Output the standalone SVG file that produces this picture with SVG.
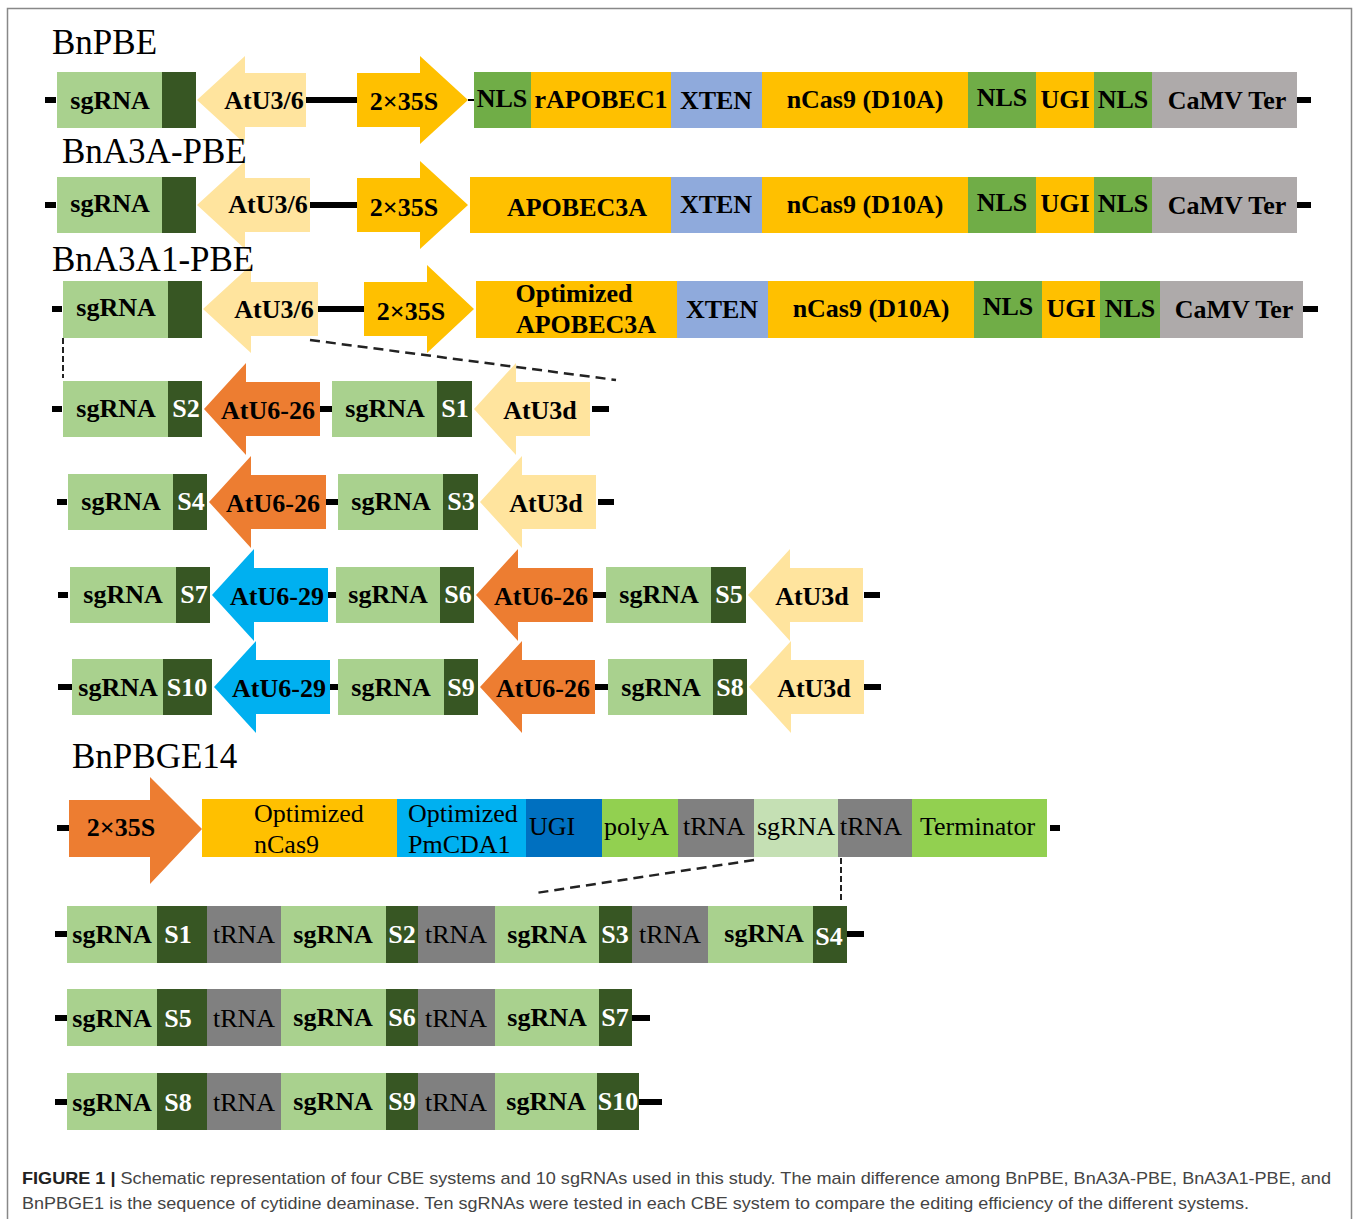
<svg xmlns="http://www.w3.org/2000/svg" width="1358" height="1219" viewBox="0 0 1358 1219">
<style>
.sg{fill:#A9D18E}.dk{fill:#375623}.pale{fill:#FFE49E}.gold{fill:#FFC000}.or{fill:#ED7D31}.bl{fill:#00B0F0}
.nls{fill:#70AD47}.xt{fill:#8FAADC}.cv{fill:#AEAAAA}.tr{fill:#808080}.pa{fill:#92D050}.ub{fill:#0070C0}.sp{fill:#C5E0B4}
.k{fill:#000}
text{font-family:"Liberation Serif","Times New Roman",serif;fill:#000}
.b{font-weight:bold;font-size:26px;text-anchor:middle}
.w{fill:#fff}
.n{font-size:26px}
.ttl{font-size:35px}
.cap{font-family:"Liberation Sans",Arial,sans-serif;font-size:17px;fill:#444}
.capb{font-weight:bold;fill:#222}
.dash{stroke:#222;fill:none}
</style>
<path d="M7.5,1219 V8.5 H1351.5 V1219" fill="none" stroke="#888" stroke-width="1.5"/>

<!-- Connectors: backbone lines, ticks and dashed zoom lines -->
<g id="connectors">
<rect class="k" x="45" y="97" width="11" height="6"/>
<rect class="k" x="305" y="97" width="53" height="6"/>
<rect class="k" x="468" y="99" width="6" height="2"/>
<rect class="k" x="1297" y="97" width="14" height="6"/>
<rect class="k" x="45" y="202" width="11" height="6"/>
<rect class="k" x="309" y="202" width="49" height="6"/>
<rect class="k" x="1297" y="202" width="14" height="6"/>
<rect class="k" x="52" y="306" width="10" height="6"/>
<rect class="k" x="317" y="306" width="48" height="6"/>
<rect class="k" x="1303" y="306" width="15" height="6"/>
<rect class="k" x="52" y="406" width="10" height="6"/>
<rect class="k" x="319" y="406" width="14" height="6"/>
<rect class="k" x="592" y="406" width="17" height="6"/>
<rect class="k" x="57" y="499" width="10" height="6"/>
<rect class="k" x="325" y="499" width="14" height="6"/>
<rect class="k" x="598" y="499" width="16" height="6"/>
<rect class="k" x="58" y="592" width="10" height="6"/>
<rect class="k" x="327" y="592" width="10" height="6"/>
<rect class="k" x="592" y="592" width="15" height="6"/>
<rect class="k" x="864" y="592" width="16" height="6"/>
<rect class="k" x="58" y="684" width="14" height="6"/>
<rect class="k" x="329" y="684" width="10" height="6"/>
<rect class="k" x="594" y="684" width="15" height="6"/>
<rect class="k" x="864" y="684" width="17" height="6"/>
<rect class="k" x="57" y="825" width="12" height="6"/>
<rect class="k" x="1050" y="825" width="10" height="6"/>
<rect class="k" x="55" y="931" width="12" height="6"/>
<rect class="k" x="846" y="931" width="18" height="6"/>
<rect class="k" x="55" y="1015" width="12" height="6"/>
<rect class="k" x="631" y="1015" width="19" height="6"/>
<rect class="k" x="55" y="1099" width="12" height="6"/>
<rect class="k" x="638" y="1099" width="24" height="6"/>
<line class="dash" x1="63" y1="338" x2="63" y2="378" stroke-width="2" stroke-dasharray="6,3"/>
<line class="dash" x1="310" y1="340" x2="616" y2="380" stroke-width="2.5" stroke-dasharray="10,6"/>
<line class="dash" x1="754" y1="860" x2="536" y2="893" stroke-width="2.5" stroke-dasharray="10,6"/>
<line class="dash" x1="841" y1="858" x2="841" y2="903" stroke-width="2" stroke-dasharray="6,3"/>
</g>

<!-- Row 1: BnPBE -->
<g id="bnpbe-sgRNA"><rect class="sg" x="57" y="72" width="105" height="56"/><rect class="dk" x="162" y="72" width="34" height="56"/><text class="b" x="110" y="109">sgRNA</text></g>
<g id="bnpbe-AtU3-6"><path class="pale" d="M197,100 L245,56 L245,73 L306,73 L306,127 L245,127 L245,144 Z"/><text class="b" x="264" y="109">AtU3/6</text></g>
<g id="bnpbe-2x35S"><path class="gold" d="M357,73 L420,73 L420,56 L468,100 L420,144 L420,127 L357,127 Z"/><text class="b" x="404" y="110">2×35S</text></g>
<g id="bnpbe-NLS1"><rect class="nls" x="474" y="72" width="57" height="56"/><text class="b" x="502" y="107">NLS</text></g>
<g id="bnpbe-rAPOBEC1"><rect class="gold" x="531" y="72" width="140" height="56"/><text class="b" x="601" y="108">rAPOBEC1</text></g>
<g id="bnpbe-XTEN"><rect class="xt" x="671" y="72" width="91" height="56"/><text class="b" x="716" y="109">XTEN</text></g>
<g id="bnpbe-nCas9"><rect class="gold" x="762" y="72" width="206" height="56"/><text class="b" x="865" y="108">nCas9 (D10A)</text></g>
<g id="bnpbe-NLS2"><rect class="nls" x="968" y="72" width="68" height="56"/><text class="b" x="1002" y="106">NLS</text></g>
<g id="bnpbe-UGI"><rect class="gold" x="1036" y="72" width="58" height="56"/><text class="b" x="1065" y="108">UGI</text></g>
<g id="bnpbe-NLS3"><rect class="nls" x="1094" y="72" width="58" height="56"/><text class="b" x="1123" y="108">NLS</text></g>
<g id="bnpbe-CaMV"><rect class="cv" x="1152" y="72" width="145" height="56"/><text class="b" x="1227" y="109">CaMV Ter</text></g>

<!-- Row 2: BnA3A-PBE -->
<g id="bna3a-sgRNA"><rect class="sg" x="57" y="177" width="105" height="56"/><rect class="dk" x="162" y="177" width="34" height="56"/><text class="b" x="110" y="212">sgRNA</text></g>
<g id="bna3a-AtU3-6"><path class="pale" d="M197,205 L245,161 L245,178 L310,178 L310,232 L245,232 L245,249 Z"/><text class="b" x="268" y="213">AtU3/6</text></g>
<g id="bna3a-2x35S"><path class="gold" d="M357,178 L420,178 L420,161 L468,205 L420,249 L420,232 L357,232 Z"/><text class="b" x="404" y="216">2×35S</text></g>
<g id="bna3a-APOBEC3A"><rect class="gold" x="470" y="177" width="201" height="56"/><text class="b" x="577" y="216">APOBEC3A</text></g>
<g id="bna3a-XTEN"><rect class="xt" x="671" y="177" width="91" height="56"/><text class="b" x="716" y="213">XTEN</text></g>
<g id="bna3a-nCas9"><rect class="gold" x="762" y="177" width="206" height="56"/><text class="b" x="865" y="213">nCas9 (D10A)</text></g>
<g id="bna3a-NLS2"><rect class="nls" x="968" y="177" width="68" height="56"/><text class="b" x="1002" y="211">NLS</text></g>
<g id="bna3a-UGI"><rect class="gold" x="1036" y="177" width="58" height="56"/><text class="b" x="1065" y="212">UGI</text></g>
<g id="bna3a-NLS3"><rect class="nls" x="1094" y="177" width="58" height="56"/><text class="b" x="1123" y="212">NLS</text></g>
<g id="bna3a-CaMV"><rect class="cv" x="1152" y="177" width="145" height="56"/><text class="b" x="1227" y="214">CaMV Ter</text></g>

<!-- Row 3: BnA3A1-PBE -->
<g id="bna3a1-sgRNA"><rect class="sg" x="63" y="281" width="105" height="57"/><rect class="dk" x="168" y="281" width="34" height="57"/><text class="b" x="116" y="316">sgRNA</text></g>
<g id="bna3a1-AtU3-6"><path class="pale" d="M203,309 L251,265 L251,282 L318,282 L318,336 L251,336 L251,353 Z"/><text class="b" x="274" y="318">AtU3/6</text></g>
<g id="bna3a1-2x35S"><path class="gold" d="M364,282 L427,282 L427,265 L474,309 L427,353 L427,336 L364,336 Z"/><text class="b" x="411" y="320">2×35S</text></g>
<g id="bna3a1-APOBEC3A"><rect class="gold" x="476" y="281" width="201" height="57"/><text class="b" x="574" y="302">Optimized</text><text class="b" x="586" y="333">APOBEC3A</text></g>
<g id="bna3a1-XTEN"><rect class="xt" x="677" y="281" width="91" height="57"/><text class="b" x="722" y="318">XTEN</text></g>
<g id="bna3a1-nCas9"><rect class="gold" x="768" y="281" width="206" height="57"/><text class="b" x="871" y="317">nCas9 (D10A)</text></g>
<g id="bna3a1-NLS2"><rect class="nls" x="974" y="281" width="68" height="57"/><text class="b" x="1008" y="315">NLS</text></g>
<g id="bna3a1-UGI"><rect class="gold" x="1042" y="281" width="58" height="57"/><text class="b" x="1071" y="317">UGI</text></g>
<g id="bna3a1-NLS3"><rect class="nls" x="1100" y="281" width="60" height="57"/><text class="b" x="1130" y="317">NLS</text></g>
<g id="bna3a1-CaMV"><rect class="cv" x="1160" y="281" width="143" height="57"/><text class="b" x="1234" y="318">CaMV Ter</text></g>

<!-- Row 4 -->
<g id="r4-sgRNA-S2"><rect class="sg" x="63" y="381" width="105" height="56"/><rect class="dk" x="168" y="381" width="34" height="56"/><text class="b" x="116" y="417">sgRNA</text><text class="b w" x="186" y="417">S2</text></g>
<g id="r4-AtU6-26"><path class="or" d="M204,409 L246,363 L246,382 L320,382 L320,436 L246,436 L246,455 Z"/><text class="b" x="268" y="419">AtU6-26</text></g>
<g id="r4-sgRNA-S1"><rect class="sg" x="332" y="381" width="105" height="56"/><rect class="dk" x="437" y="381" width="35" height="56"/><text class="b" x="385" y="417">sgRNA</text><text class="b w" x="455" y="417">S1</text></g>
<g id="r4-AtU3d"><path class="pale" d="M474,409 L516,363 L516,382 L590,382 L590,436 L516,436 L516,455 Z"/><text class="b" x="540" y="419">AtU3d</text></g>

<!-- Row 5 -->
<g id="r5-sgRNA-S4"><rect class="sg" x="68" y="474" width="105" height="56"/><rect class="dk" x="173" y="474" width="34" height="56"/><text class="b" x="121" y="510">sgRNA</text><text class="b w" x="191" y="510">S4</text></g>
<g id="r5-AtU6-26"><path class="or" d="M209,502 L251,456 L251,475 L326,475 L326,529 L251,529 L251,548 Z"/><text class="b" x="273" y="512">AtU6-26</text></g>
<g id="r5-sgRNA-S3"><rect class="sg" x="338" y="474" width="105" height="56"/><rect class="dk" x="443" y="474" width="35" height="56"/><text class="b" x="391" y="510">sgRNA</text><text class="b w" x="461" y="510">S3</text></g>
<g id="r5-AtU3d"><path class="pale" d="M480,502 L522,456 L522,475 L596,475 L596,529 L522,529 L522,548 Z"/><text class="b" x="546" y="512">AtU3d</text></g>

<!-- Row 6 -->
<g id="r6-sgRNA-S7"><rect class="sg" x="70" y="567" width="106" height="56"/><rect class="dk" x="176" y="567" width="34" height="56"/><text class="b" x="123" y="603">sgRNA</text><text class="b w" x="194" y="603">S7</text></g>
<g id="r6-AtU6-29"><path class="bl" d="M212,595 L254,549 L254,568 L328,568 L328,622 L254,622 L254,641 Z"/><text class="b" x="277" y="605">AtU6-29</text></g>
<g id="r6-sgRNA-S6"><rect class="sg" x="336" y="567" width="104" height="56"/><rect class="dk" x="440" y="567" width="34" height="56"/><text class="b" x="388" y="603">sgRNA</text><text class="b w" x="458" y="603">S6</text></g>
<g id="r6-AtU6-26"><path class="or" d="M476,595 L518,549 L518,568 L593,568 L593,622 L518,622 L518,641 Z"/><text class="b" x="541" y="605">AtU6-26</text></g>
<g id="r6-sgRNA-S5"><rect class="sg" x="606" y="567" width="105" height="56"/><rect class="dk" x="711" y="567" width="35" height="56"/><text class="b" x="659" y="603">sgRNA</text><text class="b w" x="729" y="603">S5</text></g>
<g id="r6-AtU3d"><path class="pale" d="M748,595 L790,549 L790,568 L863,568 L863,622 L790,622 L790,641 Z"/><text class="b" x="812" y="605">AtU3d</text></g>

<!-- Row 7 -->
<g id="r7-sgRNA-S10"><rect class="sg" x="72" y="659" width="91" height="56"/><rect class="dk" x="163" y="659" width="49" height="56"/><text class="b" x="118" y="696">sgRNA</text><text class="b w" x="187" y="696">S10</text></g>
<g id="r7-AtU6-29"><path class="bl" d="M214,687 L256,641 L256,660 L330,660 L330,714 L256,714 L256,733 Z"/><text class="b" x="279" y="697">AtU6-29</text></g>
<g id="r7-sgRNA-S9"><rect class="sg" x="338" y="659" width="106" height="56"/><rect class="dk" x="444" y="659" width="34" height="56"/><text class="b" x="391" y="696">sgRNA</text><text class="b w" x="461" y="696">S9</text></g>
<g id="r7-AtU6-26"><path class="or" d="M480,687 L522,641 L522,660 L595,660 L595,714 L522,714 L522,733 Z"/><text class="b" x="543" y="697">AtU6-26</text></g>
<g id="r7-sgRNA-S8"><rect class="sg" x="608" y="659" width="105" height="56"/><rect class="dk" x="713" y="659" width="34" height="56"/><text class="b" x="661" y="696">sgRNA</text><text class="b w" x="730" y="696">S8</text></g>
<g id="r7-AtU3d"><path class="pale" d="M749,687 L791,641 L791,660 L864,660 L864,714 L791,714 L791,733 Z"/><text class="b" x="814" y="697">AtU3d</text></g>

<!-- Row 8: BnPBGE14 -->
<g id="pbge-2x35S"><path class="or" d="M69,800 L150,800 L150,777 L202,829 L150,884 L150,857 L69,857 Z"/><text class="b" x="121" y="836">2×35S</text></g>
<g id="pbge-nCas9"><rect class="gold" x="202" y="799" width="195" height="58"/><text class="n" x="254" y="822">Optimized</text><text class="n" x="254" y="853">nCas9</text></g>
<g id="pbge-PmCDA1"><rect class="bl" x="397" y="799" width="129" height="58"/><text class="n" x="408" y="822">Optimized</text><text class="n" x="408" y="853">PmCDA1</text></g>
<g id="pbge-UGI"><rect class="ub" x="526" y="799" width="76" height="58"/><text class="n" x="529" y="835">UGI</text></g>
<g id="pbge-polyA"><rect class="pa" x="602" y="799" width="76" height="58"/><text class="n" x="604" y="835">polyA</text></g>
<g id="pbge-tRNA1"><rect class="tr" x="678" y="799" width="76" height="58"/><text class="n" x="683" y="835">tRNA</text></g>
<g id="pbge-sgRNA"><rect class="sp" x="754" y="799" width="84" height="58"/><text class="n" x="757" y="835">sgRNA</text></g>
<g id="pbge-tRNA2"><rect class="tr" x="838" y="799" width="74" height="58"/><text class="n" x="840" y="835">tRNA</text></g>
<g id="pbge-Terminator"><rect class="pa" x="912" y="799" width="135" height="58"/><text class="n" x="920" y="835">Terminator</text></g>

<!-- Row 9 -->
<g id="r9-sgRNA-S1"><rect class="sg" x="67" y="906" width="90" height="57"/><rect class="dk" x="157" y="906" width="50" height="57"/><text class="b" x="112" y="943">sgRNA</text><text class="b w" x="178" y="943">S1</text></g>
<g id="r9-tRNA1"><rect class="tr" x="207" y="906" width="74" height="57"/><text class="n" x="244" y="943" text-anchor="middle">tRNA</text></g>
<g id="r9-sgRNA-S2"><rect class="sg" x="281" y="906" width="105" height="57"/><rect class="dk" x="386" y="906" width="32" height="57"/><text class="b" x="333" y="943">sgRNA</text><text class="b w" x="402" y="943">S2</text></g>
<g id="r9-tRNA2"><rect class="tr" x="418" y="906" width="77" height="57"/><text class="n" x="456" y="943" text-anchor="middle">tRNA</text></g>
<g id="r9-sgRNA-S3"><rect class="sg" x="495" y="906" width="104" height="57"/><rect class="dk" x="599" y="906" width="33" height="57"/><text class="b" x="547" y="943">sgRNA</text><text class="b w" x="615" y="943">S3</text></g>
<g id="r9-tRNA3"><rect class="tr" x="632" y="906" width="76" height="57"/><text class="n" x="670" y="943" text-anchor="middle">tRNA</text></g>
<g id="r9-sgRNA-S4"><rect class="sg" x="708" y="906" width="105" height="57"/><rect class="dk" x="813" y="906" width="34" height="57"/><text class="b" x="764" y="942">sgRNA</text><text class="b w" x="829" y="945">S4</text></g>

<!-- Row 10 -->
<g id="r10-sgRNA-S5"><rect class="sg" x="67" y="989" width="90" height="57"/><rect class="dk" x="157" y="989" width="50" height="57"/><text class="b" x="112" y="1027">sgRNA</text><text class="b w" x="178" y="1027">S5</text></g>
<g id="r10-tRNA1"><rect class="tr" x="207" y="989" width="74" height="57"/><text class="n" x="244" y="1027" text-anchor="middle">tRNA</text></g>
<g id="r10-sgRNA-S6"><rect class="sg" x="281" y="989" width="105" height="57"/><rect class="dk" x="386" y="989" width="32" height="57"/><text class="b" x="333" y="1026">sgRNA</text><text class="b w" x="402" y="1026">S6</text></g>
<g id="r10-tRNA2"><rect class="tr" x="418" y="989" width="77" height="57"/><text class="n" x="456" y="1027" text-anchor="middle">tRNA</text></g>
<g id="r10-sgRNA-S7"><rect class="sg" x="495" y="989" width="104" height="57"/><rect class="dk" x="599" y="989" width="33" height="57"/><text class="b" x="547" y="1026">sgRNA</text><text class="b w" x="615" y="1026">S7</text></g>

<!-- Row 11 -->
<g id="r11-sgRNA-S8"><rect class="sg" x="67" y="1073" width="90" height="57"/><rect class="dk" x="157" y="1073" width="50" height="57"/><text class="b" x="112" y="1111">sgRNA</text><text class="b w" x="178" y="1111">S8</text></g>
<g id="r11-tRNA1"><rect class="tr" x="207" y="1073" width="74" height="57"/><text class="n" x="244" y="1111" text-anchor="middle">tRNA</text></g>
<g id="r11-sgRNA-S9"><rect class="sg" x="281" y="1073" width="105" height="57"/><rect class="dk" x="386" y="1073" width="32" height="57"/><text class="b" x="333" y="1110">sgRNA</text><text class="b w" x="402" y="1110">S9</text></g>
<g id="r11-tRNA2"><rect class="tr" x="418" y="1073" width="77" height="57"/><text class="n" x="456" y="1111" text-anchor="middle">tRNA</text></g>
<g id="r11-sgRNA-S10"><rect class="sg" x="495" y="1073" width="102" height="57"/><rect class="dk" x="597" y="1073" width="42" height="57"/><text class="b" x="546" y="1110">sgRNA</text><text class="b w" x="618" y="1110">S10</text></g>

<!-- Titles (drawn above arrowheads) -->
<g id="titles">
<text class="ttl" x="52" y="54">BnPBE</text>
<text class="ttl" x="62" y="163">BnA3A-PBE</text>
<text class="ttl" x="52" y="271">BnA3A1-PBE</text>
<text class="ttl" x="72" y="768">BnPBGE14</text>
</g>

<!-- Caption -->
<text class="cap" x="22" y="1184" textLength="1309" lengthAdjust="spacingAndGlyphs"><tspan class="capb">FIGURE 1 |</tspan> Schematic representation of four CBE systems and 10 sgRNAs used in this study. The main difference among BnPBE, BnA3A-PBE, BnA3A1-PBE, and</text>
<text class="cap" x="22" y="1209" textLength="1227" lengthAdjust="spacingAndGlyphs">BnPBGE1 is the sequence of cytidine deaminase. Ten sgRNAs were tested in each CBE system to compare the editing efficiency of the different systems.</text>
</svg>
